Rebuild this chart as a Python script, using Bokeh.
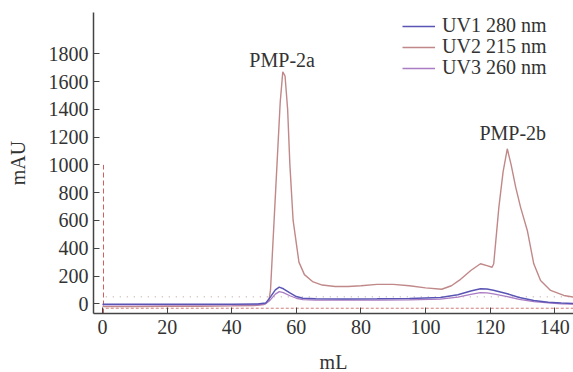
from bokeh.plotting import figure
from bokeh.models import FixedTicker, Legend, LegendItem, Range1d
from bokeh.layouts import column
from bokeh.embed import file_html
from bokeh.resources import INLINE
from bokeh.core.properties import value

# ---- data ----
uv2_x = [0, 10, 20, 30, 40, 47, 50, 51.5, 52, 53, 54, 55, 55.8, 56.5, 57.3, 58, 59, 60.8, 62.5, 65, 68,
         72, 76, 80, 85, 90, 95, 100, 105, 108, 110.5, 114, 117, 119, 120.6, 121.1, 122.7, 124, 125.3,
         126.5, 127.9, 129.4, 131.5, 133.5, 135.6, 138.7, 142.8, 145.8]
uv2_y = [-20, -20, -18, -18, -15, -12, -5, 20, 100, 550, 1000, 1450, 1670, 1640, 1400, 1000, 600, 300,
         210, 160, 135, 125, 125, 130, 140, 140, 130, 115, 105, 130, 170, 240, 288, 275, 263, 288, 696,
         950, 1116, 1000, 840, 696, 528, 288, 168, 96, 60, 48]

uv1_x = [0, 20, 40, 48, 50.5, 52, 53.5, 54.7, 56, 58, 60, 62, 66, 75, 85, 95, 104.6, 110, 114, 117,
         119, 121, 125.3, 129, 133.5, 138, 142, 145.8]
uv1_y = [-3, -3, -3, -2, 5, 50, 100, 120, 108, 78, 52, 40, 36, 35, 36, 38, 45, 65, 92, 108, 106, 98,
         72, 45, 24, 12, 5, 2]

uv3_x = uv1_x
uv3_y = [-8, -8, -8, -7, 0, 30, 70, 88, 80, 58, 40, 30, 27, 26, 27, 28, 33, 48, 68, 80, 78, 72, 52,
         32, 16, 6, 0, -2]

series_labels = ["UV1 280 nm", "UV2 215 nm", "UV3 260 nm"]
series_colors = ["#5a55b5", "#c08888", "#a97cc4"]

peak_labels = ["PMP-2a", "PMP-2b"]
peak_x = [55.6, 127.0]
peak_y = [1752, 1230]

# injection / fraction markers
inject_x = [0.3, 0.3]
inject_y = [-70, 1000]
frac_x = [1, 145.8]
frac_y = [50, 50]
base_x = [1, 145.8]
base_y = [-32, -32]

y_ticks = [0, 200, 400, 600, 800, 1000, 1200, 1400, 1600, 1800]
x_ticks = [0, 20, 40, 60, 80, 100, 120, 140]
x_title = "mL"
y_title = "mAU"

FONT = "Liberation Serif, Times New Roman, serif"
TXT = "#333333"

p = figure(width=573, height=350, output_backend="svg", toolbar_location=None,
           x_range=Range1d(-2.8, 145.8), y_range=Range1d(-69.8, 2097),
           min_border_left=93, min_border_right=0, min_border_top=12, min_border_bottom=37)

p.outline_line_color = None
p.grid.visible = False
p.background_fill_color = "white"
p.border_fill_color = "white"

# decorations
p.line(inject_x, inject_y, color="#d06060", line_width=1, line_dash="5 3")
p.line(frac_x, frac_y, color="#b89a9a", line_width=1, line_dash="1 6")
p.line(base_x, base_y, color="#d07a7a", line_width=1, line_dash="3 2")

r2 = p.line(uv2_x, uv2_y, color=series_colors[1], line_width=1.4)
r3 = p.line(uv3_x, uv3_y, color=series_colors[2], line_width=1.3)
r1 = p.line(uv1_x, uv1_y, color=series_colors[0], line_width=1.5)
renderers = [r1, r2, r3]

p.text(x=peak_x, y=peak_y, text=peak_labels, text_font=value(FONT), text_font_size="20px",
       text_color=TXT, text_align="center", text_baseline="middle")

# axes
for ax in (p.xaxis[0], p.yaxis[0]):
    ax.axis_line_color = "#444444"
    ax.axis_line_width = 1.5
    ax.major_tick_line_color = "#444444"
    ax.major_tick_in = 6
    ax.major_tick_out = 0
    ax.minor_tick_line_color = None
    ax.major_label_text_font = FONT
    ax.major_label_text_font_size = "20px"
    ax.major_label_text_color = TXT
    ax.axis_label_text_font = FONT
    ax.axis_label_text_font_size = "20px"
    ax.axis_label_text_font_style = "normal"
    ax.axis_label_text_color = TXT

p.xaxis[0].ticker = FixedTicker(ticks=x_ticks)
p.yaxis[0].ticker = FixedTicker(ticks=y_ticks)
p.yaxis[0].axis_label = y_title
p.xaxis[0].major_label_standoff = 6
p.yaxis[0].major_label_standoff = 5
p.yaxis[0].axis_label_standoff = 17

# legend: one row per series, positioned individually
legend_y = [276, 255, 234]
for lab, rend, ly in zip(series_labels, renderers, legend_y):
    lg = Legend(items=[LegendItem(label=lab, renderers=[rend])],
                location=(309, ly), orientation="vertical",
                label_text_font=FONT, label_text_font_size="20px", label_text_color=TXT,
                glyph_width=33, glyph_height=20, label_height=20, label_standoff=7,
                spacing=0, padding=0, margin=0,
                background_fill_alpha=0, border_line_alpha=0)
    p.add_layout(lg)

# strip below the chart carrying the x-axis title (shares the chart's x scale)
p2 = figure(width=573, height=22, output_backend="svg", toolbar_location=None,
            x_axis_location=None, y_axis_location=None,
            x_range=p.x_range, y_range=Range1d(0, 22),
            min_border_left=93, min_border_right=0, min_border_top=0, min_border_bottom=0)
p2.grid.visible = False
p2.outline_line_color = None
p2.background_fill_color = "white"
p2.border_fill_color = "white"
p2.text(x=[71.5], y=[11], text=[x_title], text_font=value(FONT), text_font_size="20px",
        text_color=TXT, text_align="center", text_baseline="middle")

layout = column(p, p2, spacing=0)
open("out.html", "w").write(file_html(layout, INLINE))
